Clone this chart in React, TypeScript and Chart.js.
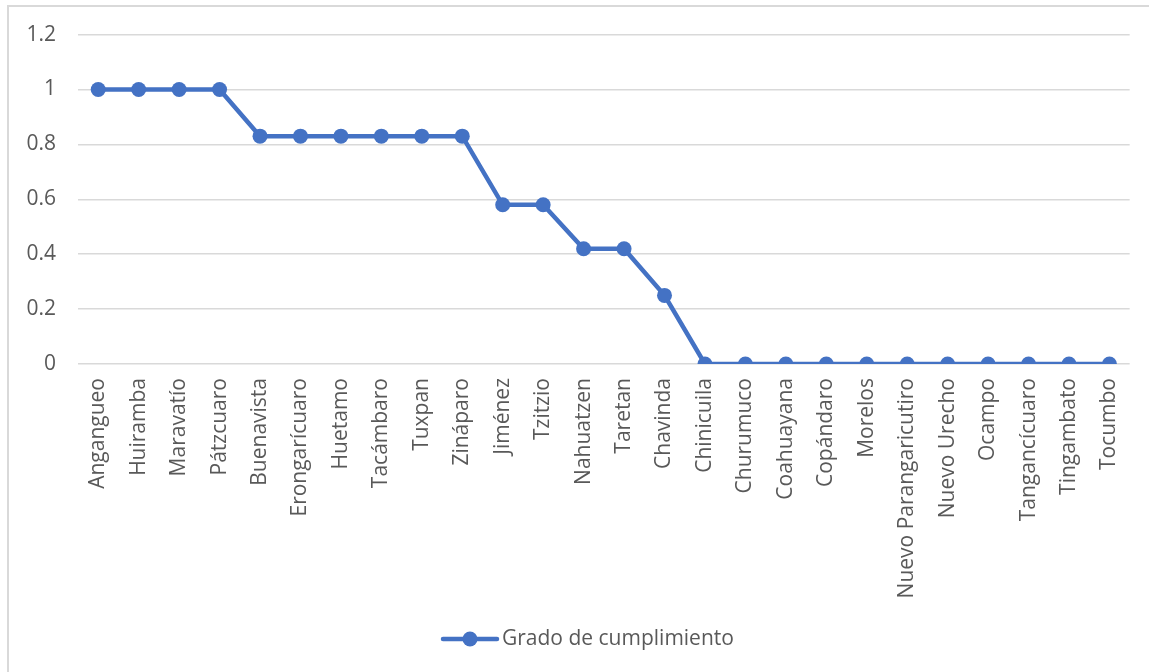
import React, { useEffect, useRef } from "react";
import { Chart, registerables } from "chart.js";

Chart.register(...registerables);

const categories: string[] = [
  "Angangueo", "Huiramba", "Maravatío", "Pátzcuaro", "Buenavista", "Erongarícuaro",
  "Huetamo", "Tacámbaro", "Tuxpan", "Zináparo", "Jiménez", "Tzitzio", "Nahuatzen",
  "Taretan", "Chavinda", "Chinicuila", "Churumuco", "Coahuayana", "Copándaro",
  "Morelos", "Nuevo Parangaricutiro", "Nuevo Urecho", "Ocampo", "Tangancícuaro",
  "Tingambato", "Tocumbo",
];

const gradoValues: number[] = [
  1, 1, 1, 1, 0.83, 0.83, 0.83, 0.83, 0.83, 0.83, 0.58, 0.58, 0.42, 0.42, 0.25,
  0, 0, 0, 0, 0, 0, 0, 0, 0, 0, 0,
];

const seriesName = "Grado de cumplimiento";
const yMin = 0;
const yMax = 1.2;
const yStep = 0.2;

const BLUE = "#4472C4";
const TEXT = "#595959";
const GRID = "#d9d9d9";
const FONT = "'Open Sans', 'Segoe UI', sans-serif";
const FONT_SIZE = 21;

const legendPlugin = {
  id: "customLegend",
  afterDraw(chart: any) {
    const ctx = chart.ctx;
    const y = 639;
    ctx.save();
    ctx.strokeStyle = BLUE;
    ctx.lineWidth = 4.5;
    ctx.lineCap = "round";
    ctx.beginPath();
    ctx.moveTo(443, y);
    ctx.lineTo(497, y);
    ctx.stroke();
    ctx.fillStyle = BLUE;
    ctx.beginPath();
    ctx.arc(470, y, 7.5, 0, Math.PI * 2);
    ctx.fill();
    ctx.fillStyle = TEXT;
    ctx.font = `${FONT_SIZE}px ${FONT}`;
    ctx.textAlign = "left";
    ctx.textBaseline = "middle";
    ctx.fillText(seriesName, 502, y);
    ctx.restore();
  },
};

export default function App() {
  const canvasRef = useRef<HTMLCanvasElement | null>(null);

  useEffect(() => {
    if (!canvasRef.current) return;
    const chart = new Chart(canvasRef.current, {
      type: "line",
      data: {
        labels: categories,
        datasets: [
          {
            label: seriesName,
            data: gradoValues,
            borderColor: BLUE,
            backgroundColor: BLUE,
            borderWidth: 4.5,
            pointRadius: 7.5,
            pointHoverRadius: 7.5,
            pointBackgroundColor: BLUE,
            pointBorderColor: BLUE,
            pointBorderWidth: 0,
            tension: 0,
            fill: false,
          },
        ],
      },
      options: {
        responsive: false,
        animation: false,
        layout: { padding: { left: 0, right: 19, top: 34, bottom: 0 } },
        plugins: {
          legend: { display: false },
          tooltip: { enabled: false },
        },
        scales: {
          x: {
            type: "category",
            offset: true,
            grid: { display: false, drawTicks: false },
            border: { display: false },
            ticks: {
              autoSkip: false,
              minRotation: 90,
              maxRotation: 90,
              padding: 14,
              color: TEXT,
              font: { family: FONT, size: FONT_SIZE },
            },
            afterFit: (scale: any) => {
              scale.height = 308;
            },
          },
          y: {
            min: yMin,
            max: yMax,
            grid: { color: GRID, lineWidth: 1.5, drawTicks: false },
            border: { display: false },
            ticks: {
              stepSize: yStep,
              padding: 22,
              color: TEXT,
              font: { family: FONT, size: FONT_SIZE },
              callback: (v: any) => String(Number(Number(v).toFixed(1))),
            },
            afterFit: (scale: any) => {
              scale.width = 78;
            },
          },
        },
      },
      plugins: [legendPlugin],
    });
    return () => chart.destroy();
  }, []);

  return (
    <div
      style={{
        position: "fixed",
        left: 0,
        top: 0,
        width: 1149,
        height: 672,
        background: "#fff",
        overflow: "hidden",
      }}
    >
      <canvas
        ref={canvasRef}
        width={1149}
        height={672}
        style={{ position: "absolute", left: 0, top: 0, width: 1149, height: 672 }}
      />
      <div
        style={{
          position: "absolute",
          left: 7,
          top: 5,
          width: 1300,
          height: 800,
          border: `2px solid ${GRID}`,
          pointerEvents: "none",
        }}
      />
    </div>
  );
}
